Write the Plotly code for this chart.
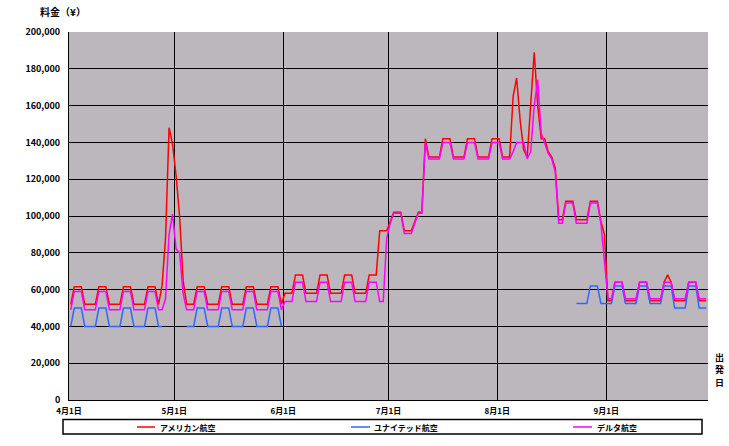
import pandas as pd
import plotly.graph_objects as go

N = None
START_DATE = "2003-04-01 12:00"
SERIES_NAMES = ["アメリカン航空", "ユナイテッド航空", "デルタ航空"]
SERIES_COLORS = ["#ff0000", "#3366ff", "#ff00ff"]
MONTH_TICKS = ["2003-04-01", "2003-05-01", "2003-06-01", "2003-07-01", "2003-08-01", "2003-09-01"]
MONTH_LABELS = ["4月1日", "5月1日", "6月1日", "7月1日", "8月1日", "9月1日"]
Y_TITLE = "料金（¥）"
X_TITLE = "出発日"

american = [
    # April
    52000, 61500, 61500, 61500, 52000, 52000, 52000, 52000, 61500, 61500,
    61500, 52000, 52000, 52000, 52000, 61500, 61500, 61500, 52000, 52000,
    52000, 52000, 61500, 61500, 61500, 52000, 62000, 88000, 148000, 139000,
    # May
    122000, 100000, 65000, 52000, 52000, 52000, 61500, 61500, 61500, 52000,
    52000, 52000, 52000, 61500, 61500, 61500, 52000, 52000, 52000, 52000,
    61500, 61500, 61500, 52000, 52000, 52000, 52000, 61500, 61500, 61500,
    52000,
    # June
    58000, 58000, 58000, 68000, 68000, 68000, 58000, 58000, 58000, 58000,
    68000, 68000, 68000, 58000, 58000, 58000, 58000, 68000, 68000, 68000,
    58000, 58000, 58000, 58000, 68000, 68000, 68000, 92000, 92000, 92000,
    # July
    97000, 102000, 102000, 102000, 92000, 92000, 92000, 97000, 102000, 102000,
    142000, 132000, 132000, 132000, 132000, 142000, 142000, 142000, 132000, 132000,
    132000, 132000, 142000, 142000, 142000, 132000, 132000, 132000, 132000, 142000,
    142000,
    # August
    142000, 132000, 132000, 132000, 165000, 175000, 152000, 136000, 132000, 160000,
    189000, 160000, 142000, 142000, 135000, 132000, 126000, 98000, 98000, 108000,
    108000, 108000, 98000, 98000, 98000, 98000, 108000, 108000, 108000, 97000,
    90000,
    # September
    54000, 54000, 64000, 64000, 64000, 54000, 54000, 54000, 54000, 64000,
    64000, 64000, 54000, 54000, 54000, 54000, 64000, 68000, 64000, 54000,
    54000, 54000, 54000, 64000, 64000, 64000, 54000, 54000, 54000,
]

united = [
    # April
    40000, 50000, 50000, 50000, 40000, 40000, 40000, 40000, 50000, 50000,
    50000, 40000, 40000, 40000, 40000, 50000, 50000, 50000, 40000, 40000,
    40000, 40000, 50000, 50000, 50000, 40000, 40000, N, N, N,
    # May
    N, N, N, 40000, 40000, 40000, 50000, 50000, 50000, 40000,
    40000, 40000, 40000, 50000, 50000, 50000, 40000, 40000, 40000, 40000,
    50000, 50000, 50000, 40000, 40000, 40000, 40000, 50000, 50000, 50000,
    40000,
    # June
    N, N, N, N, N, N, N, N, N, N,
    N, N, N, N, N, N, N, N, N, N,
    N, N, N, N, N, N, N, N, N, N,
    # July
    N, N, N, N, N, N, N, N, N, N,
    N, N, N, N, N, N, N, N, N, N,
    N, N, N, N, N, N, N, N, N, N,
    N,
    # August
    N, N, N, N, N, N, N, N, N, N,
    N, N, N, N, N, N, N, N, N, N,
    N, N, 52500, 52500, 52500, 52500, 62000, 62000, 62000, 52500,
    52500,
    # September
    52500, 52500, 62000, 62000, 62000, 52500, 52500, 52500, 52500, 62000,
    62000, 62000, 52500, 52500, 52500, 52500, 62000, 62000, 62000, 50000,
    50000, 50000, 50000, 62000, 62000, 62000, 50000, 50000, 50000,
]

delta = [
    # April
    49000, 59000, 59000, 59000, 49000, 49000, 49000, 49000, 59000, 59000,
    59000, 49000, 49000, 49000, 49000, 59000, 59000, 59000, 49000, 49000,
    49000, 49000, 59000, 59000, 59000, 49000, 49000, 55000, 90000, 101000,
    # May
    82000, 80000, 58000, 49000, 49000, 49000, 59000, 59000, 59000, 49000,
    49000, 49000, 49000, 59000, 59000, 59000, 49000, 49000, 49000, 49000,
    59000, 59000, 59000, 49000, 49000, 49000, 49000, 59000, 59000, 59000,
    49000,
    # June
    53500, 53500, 53500, 64000, 64000, 64000, 53500, 53500, 53500, 53500,
    64000, 64000, 64000, 53500, 53500, 53500, 53500, 64000, 64000, 64000,
    53500, 53500, 53500, 53500, 64000, 64000, 64000, 53500, 53500, 88000,
    # July
    96000, 101500, 101500, 101500, 90500, 90500, 90500, 96000, 101500, 101500,
    140000, 131000, 131000, 131000, 131000, 140000, 140000, 140000, 131000, 131000,
    131000, 131000, 140000, 140000, 140000, 131000, 131000, 131000, 131000, 140000,
    140000,
    # August
    140000, 131000, 131000, 131000, 135000, 140000, 140000, 140000, 131000, 135000,
    160000, 174000, 145000, 140000, 134000, 131000, 124000, 96000, 96000, 107000,
    107000, 107000, 96000, 96000, 96000, 96000, 107000, 107000, 107000, 96000,
    76000,
    # September
    55000, 55000, 64000, 64000, 64000, 55000, 55000, 55000, 55000, 64000,
    64000, 64000, 55000, 55000, 55000, 55000, 64000, 64000, 64000, 55000,
    55000, 55000, 55000, 64000, 64000, 64000, 55000, 55000, 55000,
]

dates = pd.date_range(START_DATE, periods=len(american), freq="D")

W, H = 729, 446
L, R, T, B = 69, 708, 32, 400
FONT = "Noto Sans CJK JP"


def px(x):
    return (x - L) / (R - L)


def py(y):
    return (B - y) / (B - T)


fig = go.Figure()
for name, vals, col in zip(SERIES_NAMES, [american, united, delta], SERIES_COLORS):
    fig.add_trace(go.Scatter(
        x=dates, y=vals, name=name, mode="lines",
        line=dict(color=col, width=1.5), connectgaps=False, showlegend=False,
        hoverinfo="skip",
    ))

fig.update_layout(
    width=W, height=H,
    margin=dict(l=L, r=W - R, t=T, b=H - B, pad=0),
    paper_bgcolor="white",
    plot_bgcolor="#bcb7bc",
    font=dict(family=FONT, size=9, color="black"),
    xaxis=dict(
        type="date", range=["2003-04-01", "2003-09-30"],
        tickvals=MONTH_TICKS, ticktext=MONTH_LABELS,
        tickfont=dict(family=FONT, size=8, weight="bold"),
        showgrid=True, gridcolor="black", gridwidth=1,
        showline=True, linecolor="black", linewidth=1,
        ticks="", zeroline=False, ticklabelstandoff=3,
    ),
    yaxis=dict(
        range=[0, 200000], dtick=20000, tickformat=",",
        tickfont=dict(family=FONT, size=9, weight="bold"),
        showgrid=True, gridcolor="black", gridwidth=1,
        showline=True, linecolor="black", linewidth=1,
        ticks="", zeroline=False, ticklabelstandoff=6,
    ),
    showlegend=False,
    hovermode=False,
)

annotations = [
    dict(text=Y_TITLE, x=px(38), y=py(12), xref="paper", yref="paper",
         xanchor="left", yanchor="middle", showarrow=False,
         font=dict(family=FONT, size=10, weight="bold")),
]
for ch, yc in zip(X_TITLE, [357.5, 369.5, 382]):
    annotations.append(dict(text=ch, x=px(719), y=py(yc), xref="paper", yref="paper",
                            xanchor="center", yanchor="middle", showarrow=False,
                            borderpad=0, font=dict(family=FONT, size=9, weight="bold")))

shapes = [
    dict(type="rect", xref="paper", yref="paper",
         x0=px(63), x1=px(702), y0=py(434), y1=py(419.5),
         line=dict(color="black", width=1.5), fillcolor="white", layer="above"),
]

legend_pos = [(137, 155, 158), (351, 370, 372), (573, 592, 595)]
for (x0, x1, xt), name, col in zip(legend_pos, SERIES_NAMES, SERIES_COLORS):
    shapes.append(dict(type="line", xref="paper", yref="paper",
                       x0=px(x0), x1=px(x1), y0=py(427), y1=py(427),
                       line=dict(color=col, width=1.5), layer="above"))
    annotations.append(dict(text=name, x=px(xt), y=py(427), xref="paper", yref="paper",
                            xanchor="left", yanchor="middle", showarrow=False,
                            font=dict(family=FONT, size=8, weight="bold")))

fig.update_layout(annotations=annotations, shapes=shapes)
fig.write_html("out.html", config={"displayModeBar": False, "staticPlot": True},
               post_script="document.body.style.margin='0';")
